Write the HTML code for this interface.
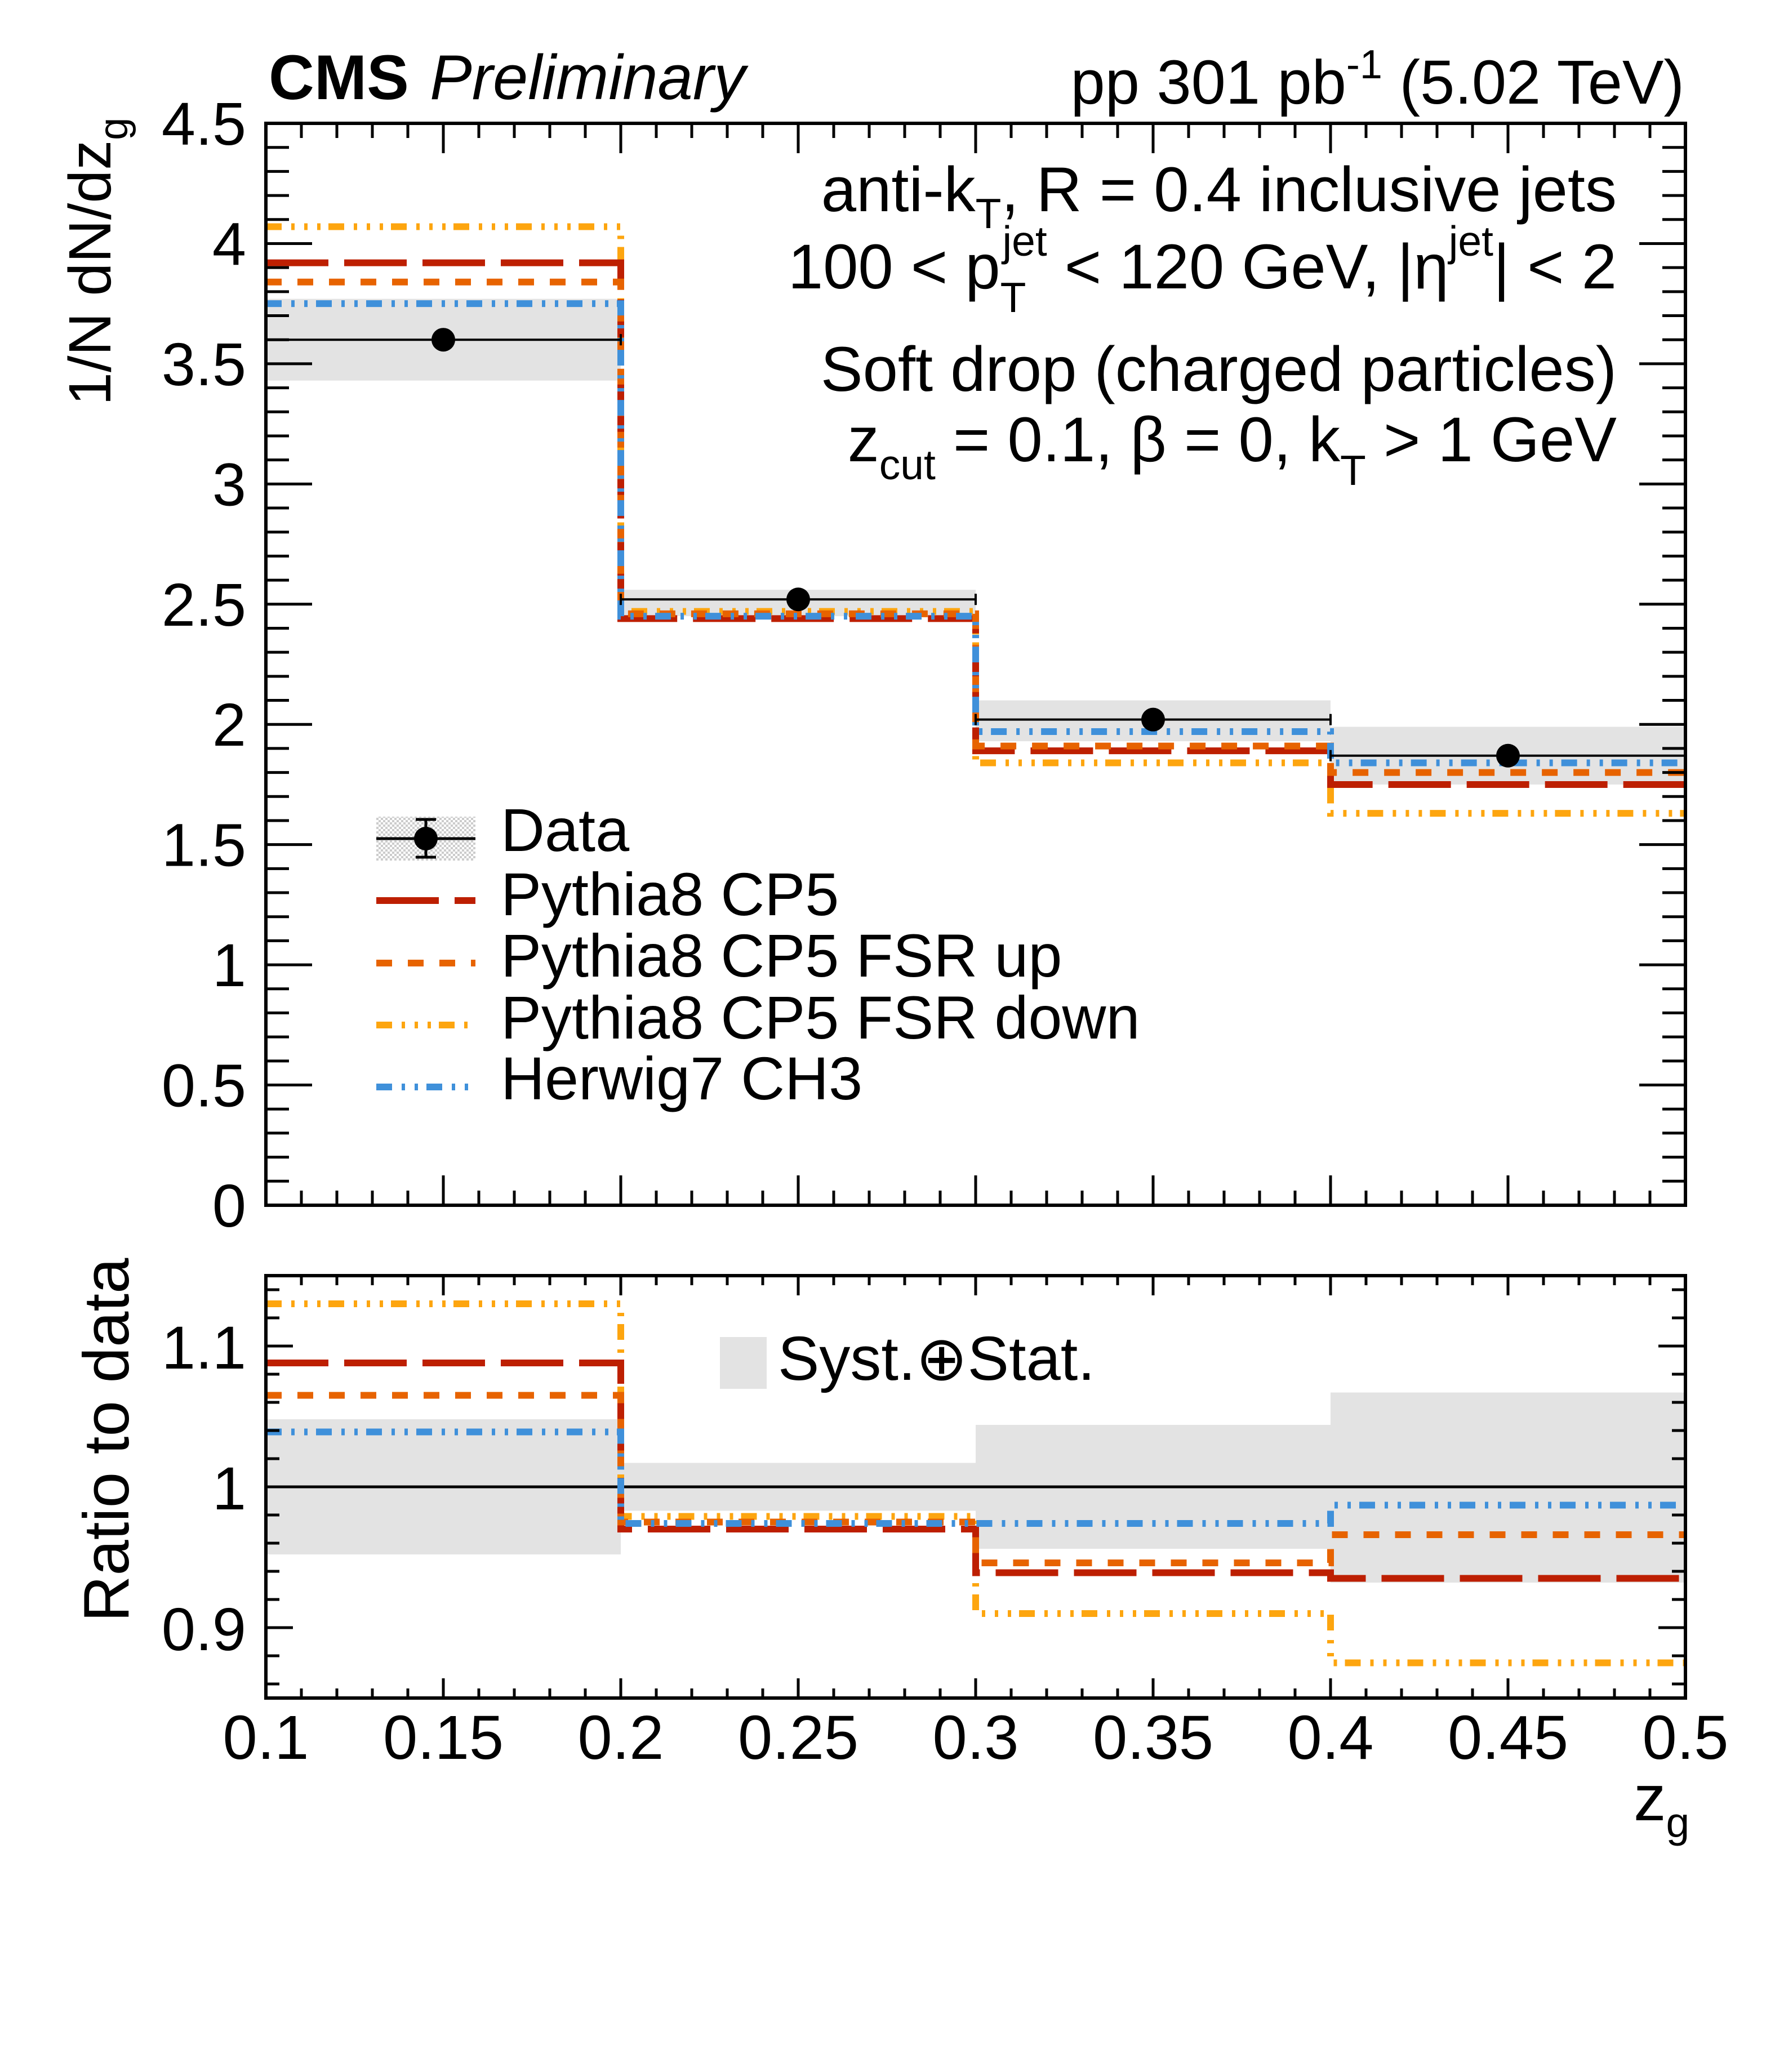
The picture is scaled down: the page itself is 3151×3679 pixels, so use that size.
<!DOCTYPE html>
<html><head><meta charset="utf-8"><style>
html,body{margin:0;padding:0;background:#fff}
svg{display:block}
text{font-family:"Liberation Sans",Arial,sans-serif;fill:#000}
</style></head><body>
<svg id="s" width="3151" height="3679" viewBox="0 0 3151 3679" xmlns="http://www.w3.org/2000/svg">
<defs>
<pattern id="hatch" width="8" height="8" patternUnits="userSpaceOnUse">
<rect width="8" height="8" fill="#fff"/><rect width="4" height="4" fill="#ccc"/><rect x="4" y="4" width="4" height="4" fill="#ccc"/>
</pattern>
</defs>
<g id="g"></g>
<text x="477" y="176" font-size="112" font-weight="bold">CMS</text>
<text x="763" y="176" font-size="112" font-style="italic">Preliminary</text>
<text x="2990" y="184" font-size="110" text-anchor="end">pp 301 pb<tspan dy="-45" font-size="72">-1</tspan><tspan dy="45"> (5.02 TeV)</tspan></text>

<text x="2870" y="375" font-size="112" text-anchor="end">anti-k<tspan dy="30" font-size="75">T</tspan><tspan dy="-30">, R = 0.4 inclusive jets</tspan></text>
<text x="2870" y="512" font-size="112" text-anchor="end">100 &lt; p<tspan dy="42" font-size="75">T</tspan><tspan dy="-100" dx="-42" font-size="75">jet</tspan><tspan dy="58"> &lt; 120 GeV, |η</tspan><tspan dy="-58" font-size="75">jet</tspan><tspan dy="58">| &lt; 2</tspan></text>
<text x="2870" y="694" font-size="112" text-anchor="end">Soft drop (charged particles)</text>
<text x="2870" y="819" font-size="112" text-anchor="end">z<tspan dy="32" font-size="75">cut</tspan><tspan dy="-32"> = 0.1, β = 0, k</tspan><tspan dy="42" font-size="75">T</tspan><tspan dy="-42"> &gt; 1 GeV</tspan></text>

<text transform="translate(196,720) rotate(-90)" font-size="106">1/N dN/dz<tspan dy="30" font-size="72">g</tspan></text>
<text transform="translate(228,2880) rotate(-90)" font-size="114">Ratio to data</text>

<text x="889" y="1511" font-size="108">Data</text>
<text x="889" y="1625" font-size="108">Pythia8 CP5</text>
<text x="889" y="1734" font-size="108">Pythia8 CP5 FSR up</text>
<text x="889" y="1844" font-size="108">Pythia8 CP5 FSR down</text>
<text x="889" y="1952" font-size="108">Herwig7 CH3</text>

<rect x="1278" y="2374" width="83" height="92" fill="#e3e3e3"/>
<text x="1381" y="2450" font-size="110">Syst.⊕Stat.</text>

<text x="2900" y="3232" font-size="115">z<tspan dy="30" font-size="75">g</tspan></text>
</svg>
<script>
(function(){
var g=document.getElementById('g'),NS='http://www.w3.org/2000/svg';
function el(t,a){var e=document.createElementNS(NS,t);for(var k in a)e.setAttribute(k,a[k]);g.appendChild(e);return e;}
var L=472,Rr=2992;
function X(v){return L+(v-0.1)*6300;}
var T1=219,B1=2140;function Y(v){return B1-v*(B1-T1)/4.5;}
var T2=2265,B2=3015;function R(v){return 2640-(v-1)*2500;}
var edges=[0.1,0.2,0.3,0.4,0.5];
var dat=[3.60,2.52,2.02,1.87], lo=[3.43,2.45,1.93,1.75], hi=[3.77,2.56,2.10,1.99];
for(var i=0;i<4;i++){el('rect',{x:X(edges[i]),y:Y(hi[i]),width:630,height:Y(lo[i])-Y(hi[i]),fill:'#e3e3e3'});}
var rlo=[0.952,0.983,0.956,0.932], rhi=[1.048,1.017,1.044,1.067];
for(var i=0;i<4;i++){el('rect',{x:X(edges[i]),y:R(rhi[i]),width:630,height:R(rlo[i])-R(rhi[i]),fill:'#e3e3e3'});}
el('line',{x1:L,x2:Rr,y1:R(1),y2:R(1),stroke:'#000','stroke-width':5});
var S=[
 {c:'#fda50f',d:'28 17 6 17 6 17 6 14',m:[4.07,2.47,1.84,1.63],r:[1.130,0.979,0.910,0.875]},
 {c:'#bd1f01',d:'111 28',m:[3.92,2.44,1.89,1.75],r:[1.088,0.970,0.939,0.935]},
 {c:'#e76300',d:'28 28',m:[3.84,2.46,1.91,1.80],r:[1.065,0.975,0.946,0.966]},
 {c:'#3f90da',d:'28 17 6 17 6 15',m:[3.75,2.45,1.97,1.84],r:[1.039,0.974,0.974,0.987]}
];
function step(vals,f){var p='M'+X(0.1)+' '+f(vals[0]);for(var i=0;i<4;i++){if(i>0)p+=' V'+f(vals[i]);p+=' H'+X(edges[i+1]);}return p;}
S.forEach(function(s){
 el('path',{d:step(s.m,Y),fill:'none',stroke:s.c,'stroke-width':12,'stroke-dasharray':s.d});
 el('path',{d:step(s.r,R),fill:'none',stroke:s.c,'stroke-width':12,'stroke-dasharray':s.d});
});
for(var i=0;i<4;i++){var cx=X(edges[i]+0.05),cy=Y(dat[i]);
 el('line',{x1:X(edges[i]),x2:X(edges[i+1]),y1:cy,y2:cy,stroke:'#000','stroke-width':4});
 el('line',{x1:X(edges[i+1]),x2:X(edges[i+1]),y1:cy-10,y2:cy+10,stroke:'#000','stroke-width':4});
 el('line',{x1:X(edges[i]),x2:X(edges[i]),y1:cy-10,y2:cy+10,stroke:'#000','stroke-width':4});
 el('circle',{cx:cx,cy:cy,r:21,fill:'#000'});}
el('rect',{x:668,y:1450,width:176,height:78,fill:'url(#hatch)'});
el('line',{x1:668,x2:844,y1:1489,y2:1489,stroke:'#000','stroke-width':5});
el('line',{x1:756,x2:756,y1:1455,y2:1522,stroke:'#000','stroke-width':5});
el('line',{x1:738,x2:774,y1:1455,y2:1455,stroke:'#000','stroke-width':5});
el('line',{x1:738,x2:774,y1:1522,y2:1522,stroke:'#000','stroke-width':5});
el('circle',{cx:756,cy:1489,r:21,fill:'#000'});
var ly=[1820,1599,1710,1930];
S.forEach(function(s,k){el('line',{x1:668,x2:844,y1:ly[k],y2:ly[k],stroke:s.c,'stroke-width':12,'stroke-dasharray':s.d});});
function frame(T,B,ymaj,ymin,yf,ylen,xmaj,xmin){
 el('rect',{x:L,y:T,width:Rr-L,height:B-T,fill:'none',stroke:'#000','stroke-width':6});
 for(var k=0;k<=40;k++){var v=0.1+k*0.01,x=X(v),len=(k%5==0)?xmaj:xmin;
  el('line',{x1:x,x2:x,y1:B,y2:B-len,stroke:'#000','stroke-width':5});
  el('line',{x1:x,x2:x,y1:T,y2:T+len,stroke:'#000','stroke-width':5});}
 ymaj.forEach(function(v){var y=yf(v);el('line',{x1:L,x2:L+ylen,y1:y,y2:y,stroke:'#000','stroke-width':5});el('line',{x1:Rr,x2:Rr-ylen,y1:y,y2:y,stroke:'#000','stroke-width':5});});
 ymin.forEach(function(v){var y=yf(v);el('line',{x1:L,x2:L+ylen/2,y1:y,y2:y,stroke:'#000','stroke-width':5});el('line',{x1:Rr,x2:Rr-ylen/2,y1:y,y2:y,stroke:'#000','stroke-width':5});});
}
var m1=[],n1=[];for(var k=0;k<=45;k++){var v=k/10;if(k%5==0)m1.push(v);else n1.push(v);}
frame(T1,B1,m1,n1,Y,82,53,26);
var m2=[0.9,1.0,1.1],n2=[];for(var k=0;k<=14;k++){var v=0.86+k*0.02;n2.push(v);}
frame(T2,B2,m2,n2,R,48,35,17);
function txt(x,y,s,anchor,size){var t=el('text',{x:x,y:y,'font-size':size,'text-anchor':anchor});t.textContent=s;}
var lab=['0','0.5','1','1.5','2','2.5','3','3.5','4','4.5'];
lab.forEach(function(s,k){txt(437,Y(k*0.5)+38,s,'end',108);});
txt(437,R(1.1)+40,'1.1','end',108);txt(437,R(1.0)+40,'1','end',108);txt(437,R(0.9)+40,'0.9','end',108);
var xl=['0.1','0.15','0.2','0.25','0.3','0.35','0.4','0.45','0.5'];
xl.forEach(function(s,k){txt(X(0.1+k*0.05),3123,s,'middle',110);});
})();
</script>
</body></html>
